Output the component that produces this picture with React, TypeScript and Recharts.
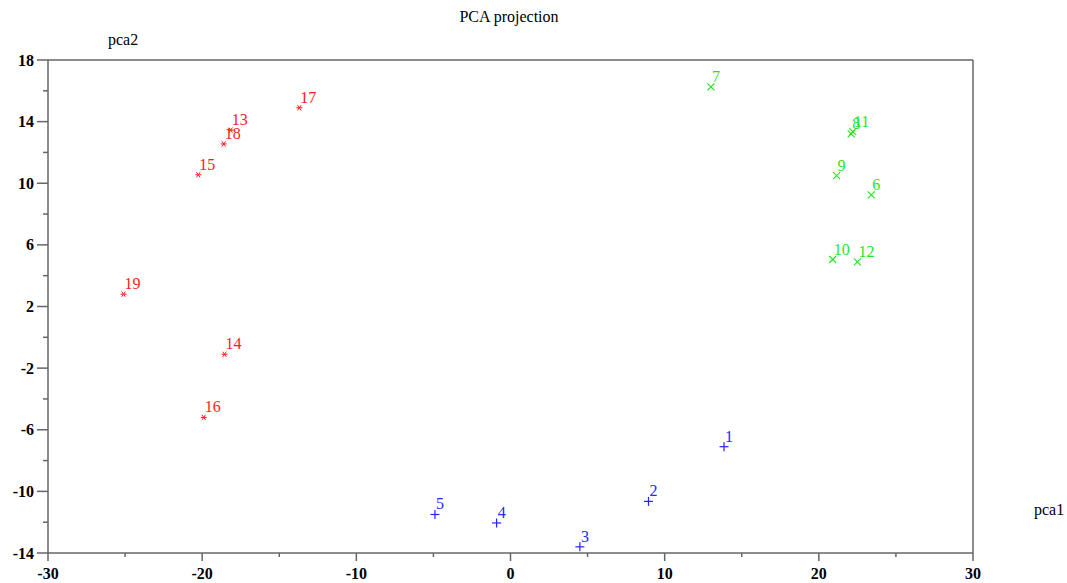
import React from 'react'
import { ScatterChart, Scatter, XAxis, YAxis, ReferenceLine } from 'recharts'

// group 1 (blue +)
const blueIds = ['1', '2', '3', '4', '5']
const blueX = [13.85, 8.95, 4.5, -0.9, -4.9]
const blueY = [-7.1, -10.65, -13.6, -12.05, -11.5]

// group 2 (green x)
const greenIds = ['6', '7', '8', '9', '10', '11', '12']
const greenX = [23.4, 13.0, 22.1, 21.15, 20.9, 22.2, 22.5]
const greenY = [9.25, 16.25, 13.2, 10.5, 5.05, 13.35, 4.9]

// group 3 (red *)
const redIds = ['13', '14', '15', '16', '17', '18', '19']
const redX = [-18.15, -18.55, -20.25, -19.9, -13.7, -18.6, -25.1]
const redY = [13.45, -1.1, 10.55, -5.2, 14.9, 12.55, 2.8]

const xTicks = [-30, -25, -20, -15, -10, -5, 0, 5, 10, 15, 20, 25, 30]
const yTicks = [-14, -12, -10, -8, -6, -4, -2, 0, 2, 4, 6, 8, 10, 12, 14, 16, 18]

const build = (ids: string[], xs: number[], ys: number[]) =>
  ids.map((name, i) => ({ name, x: xs[i], y: ys[i] }))

const blueData = build(blueIds, blueX, blueY)
const greenData = build(greenIds, greenX, greenY)
const redData = build(redIds, redX, redY)

const FONT = '"Liberation Serif", "Times New Roman", serif'
const AXIS = '#666'
const BLUE = '#2424ff'
const GREEN = '#1ee61e'
const RED = '#ff1a1a'

const XTick = ({ x, y, payload }: any) => {
  const v = payload.value
  const major = v % 10 === 0
  return (
    <g>
      <line x1={x} x2={x} y1={y} y2={y + (major ? 8 : 4)} stroke={AXIS} strokeWidth={1.5} />
      {major && (
        <text x={x} y={y + 26} textAnchor="middle" fontFamily={FONT} fontWeight="bold" fontSize={16} fill="#000">
          {String(v)}
        </text>
      )}
    </g>
  )
}

const YTick = ({ x, y, payload }: any) => {
  const v = payload.value
  const major = (v - 18) % 4 === 0
  return (
    <g>
      <line x1={x} x2={x - (major ? 11 : 5)} y1={y} y2={y} stroke={AXIS} strokeWidth={1.5} />
      {major && (
        <text x={x - 14} y={y + 5.5} textAnchor="end" fontFamily={FONT} fontWeight="bold" fontSize={16} fill="#000">
          {String(v)}
        </text>
      )}
    </g>
  )
}

const label = (cx: number, cy: number, name: string, color: string) => (
  <text x={cx + 1} y={cy - 5} fontFamily={FONT} fontSize={16} fill={color}>{name}</text>
)

const Plus = ({ cx, cy, payload }: any) => (
  <g>
    <line x1={cx - 4.5} x2={cx + 4.5} y1={cy} y2={cy} stroke={BLUE} strokeWidth={1.2} />
    <line x1={cx} x2={cx} y1={cy - 4.5} y2={cy + 4.5} stroke={BLUE} strokeWidth={1.2} />
    {label(cx, cy, payload.name, BLUE)}
  </g>
)

const Cross = ({ cx, cy, payload }: any) => (
  <g>
    <line x1={cx - 3.5} x2={cx + 3.5} y1={cy - 3.5} y2={cy + 3.5} stroke={GREEN} strokeWidth={1.1} />
    <line x1={cx - 3.5} x2={cx + 3.5} y1={cy + 3.5} y2={cy - 3.5} stroke={GREEN} strokeWidth={1.1} />
    {label(cx, cy, payload.name, GREEN)}
  </g>
)

const Star = ({ cx, cy, payload }: any) => (
  <g>
    <line x1={cx - 3} x2={cx + 3} y1={cy} y2={cy} stroke={RED} strokeWidth={1} />
    <line x1={cx - 1.8} x2={cx + 1.8} y1={cy - 2.6} y2={cy + 2.6} stroke={RED} strokeWidth={1} />
    <line x1={cx - 1.8} x2={cx + 1.8} y1={cy + 2.6} y2={cy - 2.6} stroke={RED} strokeWidth={1} />
    {label(cx, cy, payload.name, RED)}
  </g>
)

export default function App() {
  return (
    <div style={{ position: 'absolute', left: 0, top: 0, background: '#fff' }}>
      <ScatterChart width={1067} height={583} margin={{ top: 60, right: 94, bottom: 0, left: 8 }}>
        <XAxis
          type="number"
          dataKey="x"
          domain={[-30, 30]}
          ticks={xTicks}
          interval={0}
          height={30}
          tickSize={0}
          tickMargin={0}
          tickLine={false}
          tick={<XTick />}
          axisLine={{ stroke: AXIS, strokeWidth: 1.5 }}
          allowDataOverflow
        />
        <YAxis
          type="number"
          dataKey="y"
          domain={[-14, 18]}
          ticks={yTicks}
          interval={0}
          width={40}
          tickSize={0}
          tickMargin={0}
          tickLine={false}
          tick={<YTick />}
          axisLine={{ stroke: AXIS, strokeWidth: 1.5 }}
          allowDataOverflow
        />
        <ReferenceLine y={18} stroke={AXIS} strokeWidth={1.5} />
        <ReferenceLine x={30} stroke={AXIS} strokeWidth={1.5} />
        <Scatter data={blueData} shape={<Plus />} isAnimationActive={false} />
        <Scatter data={greenData} shape={<Cross />} isAnimationActive={false} />
        <Scatter data={redData} shape={<Star />} isAnimationActive={false} />
        <text x={509} y={22} textAnchor="middle" fontFamily={FONT} fontSize={16} fill="#000">PCA projection</text>
        <text x={108} y={45} fontFamily={FONT} fontSize={16} fill="#000">pca2</text>
        <text x={1034} y={515} fontFamily={FONT} fontSize={16} fill="#000">pca1</text>
      </ScatterChart>
    </div>
  )
}
